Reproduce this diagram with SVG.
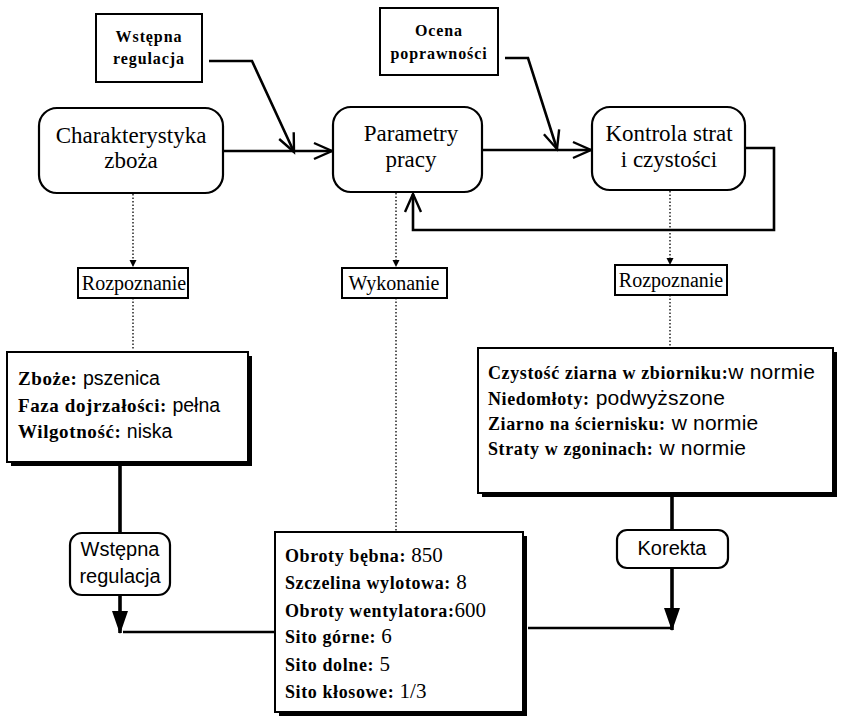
<svg xmlns="http://www.w3.org/2000/svg" width="844" height="717" viewBox="0 0 844 717">
<defs>
<marker id="open" markerWidth="22" markerHeight="20" refX="19" refY="10" orient="auto" markerUnits="userSpaceOnUse">
<path d="M1,2 L19,10 L1,18" fill="none" stroke="#000" stroke-width="2.4"/>
</marker>
<marker id="dot" markerWidth="8" markerHeight="8" refX="6" refY="4" orient="auto" markerUnits="userSpaceOnUse">
<path d="M0,0.5 L7,4 L0,7.5 Z" fill="#000"/>
</marker>
<marker id="solid" markerWidth="24" markerHeight="18" refX="22" refY="9" orient="auto" markerUnits="userSpaceOnUse">
<path d="M0,1 L23,9 L0,17 Z" fill="#000"/>
</marker>
</defs>
<style>
.bx{fill:#fff;stroke:#000;stroke-width:2}
.sh{fill:#000}
.rn{fill:#fff;stroke:#000;stroke-width:2.2}
.ln{fill:none;stroke:#000;stroke-width:2.6}
.th{fill:none;stroke:#000;stroke-width:3.6}
.dt{fill:none;stroke:#000;stroke-width:1.3;stroke-dasharray:1.5 2}
.big{font-family:"Liberation Serif",serif;font-size:23px;text-anchor:middle}
.sb{font-family:"Liberation Serif",serif;font-size:16px;font-weight:bold;letter-spacing:0.9px;text-anchor:middle}
.lab{font-family:"Liberation Serif",serif;font-size:20px;text-anchor:middle}
.k{font-family:"Liberation Serif",serif;font-size:18px;font-weight:bold;letter-spacing:0.6px}
.kz{font-family:"Liberation Serif",serif;font-size:19px;font-weight:bold;letter-spacing:0.6px}
.kc{font-family:"Liberation Serif",serif;font-size:18px;font-weight:bold;letter-spacing:0.6px}
.v{font-family:"Liberation Sans",sans-serif;font-size:21px;font-weight:normal;letter-spacing:0.2px}
.vz{font-family:"Liberation Sans",sans-serif;font-size:19.5px;font-weight:normal}
.n{font-family:"Liberation Serif",serif;font-size:21px;font-weight:normal}
.opt{font-family:"Liberation Sans",sans-serif;font-size:20px;text-anchor:middle}
</style>
<g id="connectors">
<path class="ln" d="M209,61 L252,61 L294,152" marker-end="url(#open)"/>
<path class="ln" d="M223,151 L332,151" marker-end="url(#open)"/>
<path class="ln" d="M505,58 L528,58 L557,149" marker-end="url(#open)"/>
<path class="ln" d="M482,150 L591,150" marker-end="url(#open)"/>
<path class="ln" d="M745,148 L774,148 L774,230 L413,230 L413,194" marker-end="url(#open)"/>
<path class="dt" d="M133,194 L133,266" marker-end="url(#dot)"/>
<path class="dt" d="M133,298 L133,350"/>
<path class="dt" d="M396,193 L396,266" marker-end="url(#dot)"/>
<path class="dt" d="M396,298 L396,531"/>
<path class="dt" d="M670,191 L670,264" marker-end="url(#dot)"/>
<path class="dt" d="M670,295 L670,347"/>
<path class="th" d="M120,466 L120,533"/>
<path class="th" d="M120,595 L120,633" marker-end="url(#solid)"/>
<path class="ln" d="M123,632 L275,632"/>
<path class="th" d="M672,497 L672,530"/>
<path class="th" d="M672,568 L672,630" marker-end="url(#solid)"/>
<path class="ln" d="M528,628 L672,628"/>
</g>
<g id="n-wstepna-top">
<rect class="bx" x="96" y="14" width="106" height="68"/>
<text class="sb" x="149" y="42">Wstępna</text>
<text class="sb" x="149" y="64">regulacja</text>
</g>
<g id="n-ocena">
<rect class="bx" x="380" y="8" width="118" height="67"/>
<text class="sb" x="439" y="36">Ocena</text>
<text class="sb" x="439" y="59">poprawności</text>
</g>
<g id="n-charakterystyka">
<rect class="rn" x="39" y="108" width="184" height="85" rx="18"/>
<text class="big" x="131" y="143">Charakterystyka</text>
<text class="big" x="131" y="168">zboża</text>
</g>
<g id="n-parametry">
<rect class="rn" x="333" y="107" width="149" height="85" rx="18"/>
<text class="big" x="411" y="141">Parametry</text>
<text class="big" x="411" y="167">pracy</text>
</g>
<g id="n-kontrola">
<rect class="rn" x="592" y="107" width="153" height="83" rx="18"/>
<text class="big" x="669" y="141">Kontrola strat</text>
<text class="big" x="669" y="167">i czystości</text>
</g>
<g id="n-rozp-left">
<rect class="bx" x="78" y="268" width="110" height="30"/>
<text class="lab" x="134" y="290">Rozpoznanie</text>
</g>
<g id="n-wykonanie">
<rect class="bx" x="342" y="268" width="105" height="30"/>
<text class="lab" x="394" y="290">Wykonanie</text>
</g>
<g id="n-rozp-right">
<rect class="bx" x="615" y="265" width="112" height="30"/>
<text class="lab" x="671" y="287">Rozpoznanie</text>
</g>
<g id="n-zboze">
<rect class="sh" x="11" y="356" width="241" height="110"/>
<rect class="bx" x="7" y="352" width="241" height="110"/>
<text x="18" y="385"><tspan class="kz">Zboże:</tspan><tspan class="vz"> pszenica</tspan></text>
<text x="18" y="412"><tspan class="kz">Faza dojrzałości:</tspan><tspan class="vz"> pełna</tspan></text>
<text x="18" y="438"><tspan class="kz">Wilgotność:</tspan><tspan class="vz"> niska</tspan></text>
</g>
<g id="n-czystosc">
<rect class="sh" x="482" y="352" width="355" height="145"/>
<rect class="bx" x="478" y="348" width="355" height="145"/>
<text x="488" y="379"><tspan class="kc">Czystość ziarna w zbiorniku:</tspan><tspan class="v">w normie</tspan></text>
<text x="488" y="405"><tspan class="kc">Niedomłoty:</tspan><tspan class="v"> podwyższone</tspan></text>
<text x="488" y="430"><tspan class="kc">Ziarno na ściernisku:</tspan><tspan class="v"> w normie</tspan></text>
<text x="488" y="455"><tspan class="kc">Straty w zgoninach:</tspan><tspan class="v"> w normie</tspan></text>
</g>
<g id="n-wstepna-bottom">
<rect class="rn" x="70" y="533" width="100" height="62" rx="12"/>
<text class="opt" x="120" y="556">Wstępna</text>
<text class="opt" x="120" y="583">regulacja</text>
</g>
<g id="n-korekta">
<rect class="rn" x="617" y="530" width="111" height="38" rx="10"/>
<text class="opt" x="672" y="555">Korekta</text>
</g>
<g id="n-obroty">
<rect class="sh" x="279" y="536" width="248" height="180"/>
<rect class="bx" x="275" y="532" width="248" height="180"/>
<text x="285" y="562"><tspan class="k">Obroty bębna:</tspan><tspan class="n"> 850</tspan></text>
<text x="285" y="589"><tspan class="k">Szczelina wylotowa:</tspan><tspan class="n"> 8</tspan></text>
<text x="285" y="617"><tspan class="k">Obroty wentylatora:</tspan><tspan class="n">600</tspan></text>
<text x="285" y="643"><tspan class="k">Sito górne:</tspan><tspan class="n"> 6</tspan></text>
<text x="285" y="671"><tspan class="k">Sito dolne:</tspan><tspan class="n"> 5</tspan></text>
<text x="285" y="698"><tspan class="k">Sito kłosowe:</tspan><tspan class="n"> 1/3</tspan></text>
</g>
</svg>
